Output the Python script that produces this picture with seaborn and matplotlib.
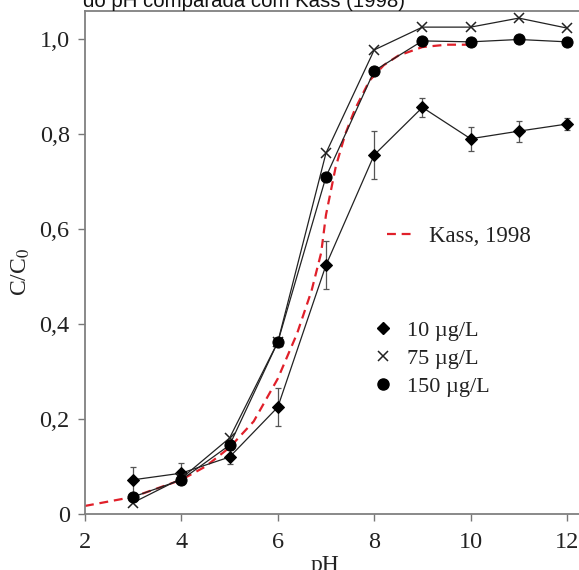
import numpy as np
import pandas as pd
import matplotlib
matplotlib.use("Agg")
import matplotlib.pyplot as plt
from matplotlib.lines import Line2D
import seaborn as sns

# ---- data ----
ph = [3, 4, 5, 6, 7, 8, 9, 10, 11, 12]
c10 = [0.072, 0.086, 0.120, 0.225, 0.524, 0.756, 0.856, 0.790, 0.806, 0.821]
c10_err = [0.027, 0.022, 0.015, 0.040, 0.050, 0.050, 0.020, 0.025, 0.022, 0.013]
c75 = [0.024, 0.075, 0.160, 0.362, 0.760, 0.977, 1.025, 1.025, 1.044, 1.023]
c150 = [0.036, 0.072, 0.145, 0.362, 0.710, 0.933, 0.996, 0.994, 0.999, 0.994]
kass_ph = [2, 3, 4, 4.5, 5, 5.5, 6, 6.4, 6.7, 6.9, 7.0, 7.2, 7.4, 7.6, 7.9, 8.2, 8.5, 9.0, 9.5, 10]
kass_c = [0.017, 0.036, 0.072, 0.10, 0.14, 0.195, 0.285, 0.38, 0.47, 0.55, 0.63, 0.73, 0.80,
          0.852, 0.912, 0.945, 0.965, 0.983, 0.988, 0.988]
series_labels = ["10 µg/L", "75 µg/L", "150 µg/L"]
kass_label = "Kass, 1998"
title_line = "do pH comparada com Kass (1998)"
x_ticks = [2, 4, 6, 8, 10, 12]
y_ticks = [0, 0.2, 0.4, 0.6, 0.8, 1.0]
y_ticklabels = ["0", "0,2", "0,4", "0,6", "0,8", "1,0"]

sns.set_style("white")
plt.rcParams["font.family"] = ["Liberation Serif", "DejaVu Serif"]
plt.rcParams["mathtext.fontset"] = "stix"

W, H = 579, 570
fig = plt.figure(figsize=(W / 100, H / 100), dpi=100)
ax_w_px = 10.4 * 48.2
ax = fig.add_axes([85 / W, 56 / H, ax_w_px / W, (514 - 11) / H])

df = pd.DataFrame({"pH": ph, "c10": c10, "c75": c75, "c150": c150})
kdf = pd.DataFrame({"pH": kass_ph, "C": kass_c})

line_col = "#222222"
sns.lineplot(data=kdf, x="pH", y="C", ax=ax, color="#e0202a", linewidth=1.6,
             dashes=False, zorder=2).lines[-1].set_dashes((4, 2.6))
ax.errorbar(ph, c10, yerr=c10_err, fmt="none", ecolor="#555555", elinewidth=0.9,
            capsize=2.5, capthick=0.9, zorder=3)
sns.lineplot(data=df, x="pH", y="c10", ax=ax, color=line_col, linewidth=0.9,
             marker="D", markersize=6.5, markeredgecolor="black",
             markerfacecolor="black", zorder=4)
sns.lineplot(data=df, x="pH", y="c75", ax=ax, color=line_col, linewidth=0.9,
             marker="x", markersize=7, markeredgecolor="#222222",
             markeredgewidth=1.1, zorder=4)
sns.lineplot(data=df, x="pH", y="c150", ax=ax, color=line_col, linewidth=0.9,
             marker="o", markersize=8, markeredgecolor="black",
             markerfacecolor="black", zorder=4)

ax.set_xlim(2, 12.4)
ax.set_ylim(0, (514 - 11) / 475)
ax.set_xticks(x_ticks)
ax.set_xticklabels([str(t) for t in x_ticks])
ax.set_yticks(y_ticks)
ax.set_yticklabels(y_ticklabels)
ax.tick_params(axis="both", direction="out", length=5, width=1, color="#777777",
               labelsize=17.5, labelcolor="#222222", pad=6, bottom=True, left=True)
ax.tick_params(axis="x", pad=8)
for s in ["left", "bottom", "top"]:
    ax.spines[s].set_color("#808080")
    ax.spines[s].set_linewidth(1.3)
ax.spines["right"].set_visible(False)
ax.set_xlabel("pH", fontsize=17, color="#222222")
ax.set_ylabel("C/C$_0$", fontsize=17, color="#222222")
ax.xaxis.set_label_coords((325 - 85) / ax_w_px, -(566 - 514) / 503)
ax.xaxis.label.set_va("center")
ax.yaxis.set_label_coords(-(85 - 21) / ax_w_px, (514 - 272) / 503)
ax.yaxis.label.set_va("center")
ax.grid(False)

kh = [Line2D([], [], color="#e0202a", linewidth=1.6, dashes=(4, 2.6))]
leg1 = ax.legend(kh, [kass_label], loc="upper left", frameon=False, fontsize=16.5,
                 bbox_to_anchor=(387 / W, 1 - 226 / H), bbox_transform=fig.transFigure,
                 borderpad=0, borderaxespad=0, handlelength=1.22, handletextpad=0.62)
for t in leg1.get_texts():
    t.set_color("#222222")
ax.add_artist(leg1)
mh = [Line2D([], [], linestyle="none", marker="D", markersize=6.5, color="black"),
      Line2D([], [], linestyle="none", marker="x", markersize=7, color="#222222",
             markeredgewidth=1.1),
      Line2D([], [], linestyle="none", marker="o", markersize=8, color="black")]
leg2 = ax.legend(mh, series_labels, loc="upper left", frameon=False, fontsize=16,
                 bbox_to_anchor=(376 / W, 1 - 320 / H), bbox_transform=fig.transFigure,
                 borderpad=0, borderaxespad=0, handlelength=0.6, handletextpad=0.8,
                 labelspacing=0.35)
for t in leg2.get_texts():
    t.set_color("#222222")

title = fig.text(83 / W, 1 - 6.7 / H, title_line, family=["Liberation Sans", "DejaVu Sans"],
                 fontsize=13, va="baseline", ha="left", color="#111111")
# fit the title width to the reference span (83 -> 405 px)
fig.canvas.draw()
w = title.get_window_extent().width
title.set_fontsize(13 * 322 / w)

fig.savefig("out.png", dpi=100)
